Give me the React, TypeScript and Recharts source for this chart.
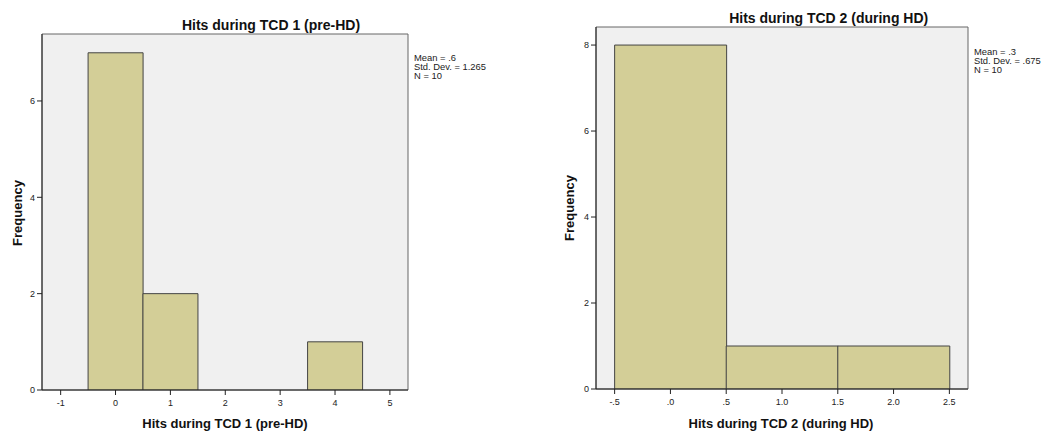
import React from 'react';
import { BarChart, Bar, XAxis, YAxis, CartesianGrid, ReferenceArea } from 'recharts';

// ---- Data ----
const bins1 = [0, 1, 4];
const counts1 = [7, 2, 1];
const xTicks1 = [-1, 0, 1, 2, 3, 4, 5];
const yTicks1 = [0, 2, 4, 6];
const xDomain1: [number, number] = [-1.34, 5.33];
const yDomain1: [number, number] = [0, 7.39];
const stats1 = ['Mean = .6', 'Std. Dev. = 1.265', 'N = 10'];
const title1 = 'Hits during TCD 1 (pre-HD)';

const bins2 = [0, 1, 2];
const counts2 = [8, 1, 1];
const xTicks2 = [-0.5, 0, 0.5, 1, 1.5, 2, 2.5];
const yTicks2 = [0, 2, 4, 6, 8];
const xDomain2: [number, number] = [-0.667, 2.667];
const yDomain2: [number, number] = [0, 8.42];
const stats2 = ['Mean = .3', 'Std. Dev. = .675', 'N = 10'];
const title2 = 'Hits during TCD 2 (during HD)';

const data1 = bins1.map((x, i) => ({ x, count: counts1[i] }));
const data2 = bins2.map((x, i) => ({ x, count: counts2[i] }));

const FONT = '"Liberation Sans", Arial, sans-serif';
const BAR_FILL = '#d3ce97';
const BAR_STROKE = '#444444';
const BG = '#f0f0f0';
const AXIS = '#222222';
const FRAME = '#666666';

const fmt2 = (v: number) => v.toFixed(1).replace(/^(-?)0\./, '$1.');

const tickStyle = { fontSize: 9, fill: '#222', fontFamily: FONT };

type HistProps = {
  data: { x: number; count: number }[];
  xTicks: number[];
  yTicks: number[];
  xDomain: [number, number];
  yDomain: [number, number];
  margin: { top: number; right: number; bottom: number; left: number };
  xHeight: number;
  fmt?: (v: number) => string;
};

function Hist({ data, xTicks, yTicks, xDomain, yDomain, margin, xHeight, fmt }: HistProps) {
  return (
    <BarChart width={520} height={432} data={data} margin={margin} barCategoryGap={0} barGap={0}>
      <CartesianGrid fill={BG} horizontal={false} vertical={false} />
      <ReferenceArea
        x1={xDomain[0]}
        x2={xDomain[1]}
        y1={yDomain[0]}
        y2={yDomain[1]}
        fill="none"
        stroke={FRAME}
        strokeWidth={1}
        fillOpacity={0}
      />
      <XAxis
        dataKey="x"
        type="number"
        domain={xDomain}
        ticks={xTicks}
        allowDataOverflow
        interval={0}
        height={xHeight}
        tickSize={5}
        tickMargin={5}
        tick={tickStyle}
        tickFormatter={fmt}
        stroke={AXIS}
        axisLine={{ stroke: AXIS }}
        tickLine={{ stroke: AXIS }}
      />
      <YAxis
        type="number"
        domain={yDomain}
        ticks={yTicks}
        allowDataOverflow
        interval={0}
        width={30}
        tickSize={5}
        tickMargin={2}
        tick={tickStyle}
        stroke={AXIS}
        axisLine={{ stroke: AXIS }}
        tickLine={{ stroke: AXIS }}
      />
      <Bar dataKey="count" fill={BAR_FILL} stroke={BAR_STROKE} strokeWidth={1} isAnimationActive={false} />
    </BarChart>
  );
}

const abs = (s: React.CSSProperties): React.CSSProperties => ({ position: 'absolute', fontFamily: FONT, color: '#111', whiteSpace: 'nowrap', ...s });

function CenterText({ x, top, size, bold, text }: { x: number; top: number; size: number; bold?: boolean; text: string }) {
  return (
    <div style={abs({ left: x, top, fontSize: size, lineHeight: `${size}px`, fontWeight: bold ? 'bold' : 'normal', transform: 'translateX(-50%)' })}>
      {text}
    </div>
  );
}

function VText({ cx, cy, text }: { cx: number; cy: number; text: string }) {
  return (
    <div
      style={abs({
        left: cx,
        top: cy,
        fontSize: 13,
        lineHeight: '13px',
        fontWeight: 'bold',
        transform: 'translate(-50%, -50%) rotate(-90deg)',
      })}
    >
      {text}
    </div>
  );
}

function Stats({ left, top, lines }: { left: number; top: number; lines: string[] }) {
  return (
    <div style={abs({ left, top, fontSize: 9.4, lineHeight: '9.2px', color: '#222' })}>
      {lines.map((l, i) => (
        <div key={i}>{l}</div>
      ))}
    </div>
  );
}

export default function App() {
  return (
    <div style={{ position: 'absolute', left: 0, top: 0, width: 1044, height: 432, background: '#fff', overflow: 'hidden' }}>
      <div style={{ position: 'absolute', left: 0, top: 0 }}>
        <Hist
          data={data1}
          xTicks={xTicks1}
          yTicks={yTicks1}
          xDomain={xDomain1}
          yDomain={yDomain1}
          margin={{ top: 34, right: 112, bottom: 0, left: 12 }}
          xHeight={42}
        />
      </div>
      <div style={{ position: 'absolute', left: 524, top: 0 }}>
        <Hist
          data={data2}
          xTicks={xTicks2}
          yTicks={yTicks2}
          xDomain={xDomain2}
          yDomain={yDomain2}
          margin={{ top: 27, right: 76, bottom: 0, left: 42 }}
          xHeight={43}
          fmt={fmt2}
        />
      </div>
      <CenterText x={271} top={17.5} size={14} bold text={title1} />
      <CenterText x={828.7} top={10.5} size={14} bold text={title2} />
      <CenterText x={225} top={416.5} size={13} bold text={title1} />
      <CenterText x={781} top={416.5} size={13} bold text={title2} />
      <VText cx={16.5} cy={212.5} text="Frequency" />
      <VText cx={568.7} cy={207.7} text="Frequency" />
      <Stats left={414} top={52.5} lines={stats1} />
      <Stats left={974} top={46.5} lines={stats2} />
    </div>
  );
}
